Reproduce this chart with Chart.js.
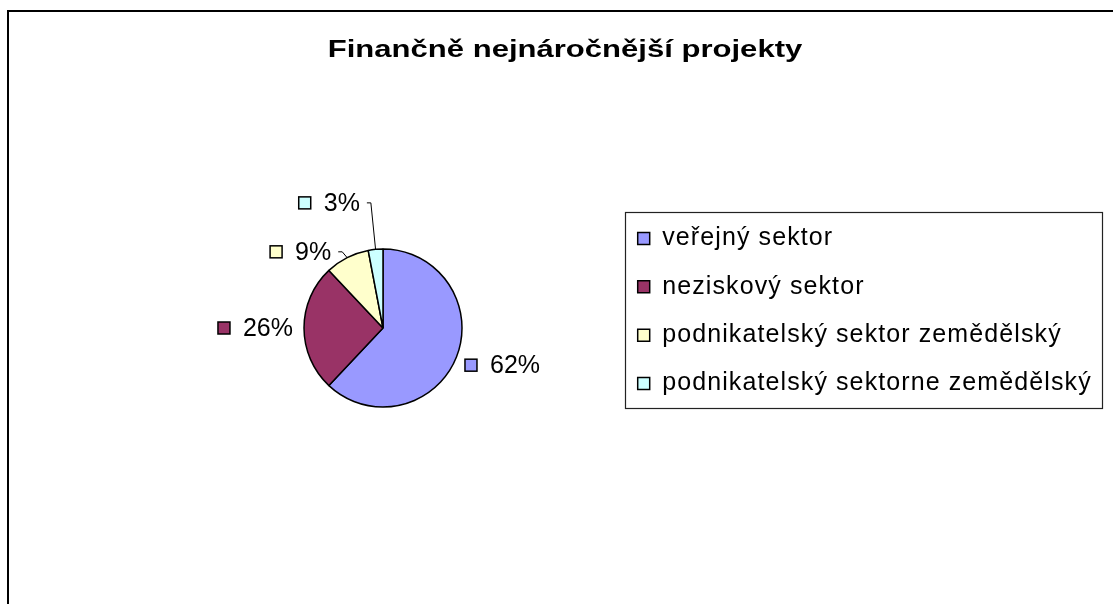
<!DOCTYPE html>
<html>
<head>
<meta charset="utf-8">
<title>Finančně nejnáročnější projekty</title>
<script src="https://cdn.jsdelivr.net/npm/chart.js@4.4.0/dist/chart.umd.min.js"></script>
<style>
    html, body { margin: 0; padding: 0; background: #fff; }
    #wrap { position: relative; width: 1113px; height: 604px; }
</style>
</head>
<body>
<div id="wrap"><canvas id="chart-pie"></canvas></div>
<script>
var chartTitle = "Finančně nejnáročnější projekty";
var categories = ["veřejný sektor", "neziskový sektor", "podnikatelský sektor zemědělský", "podnikatelský sektorne zemědělský"];
var shares = [62, 26, 9, 3];
var sliceColors = ["#9999FF", "#993366", "#FFFFCC", "#CCFFFF"];

// where the % labels sit: px past the rim, and a turn (deg) for the crowded small slices
var labelGap = [12, 11, 13.5, 44.5];
var labelTurn = [0, 0, -15, -15];

var fontFamily = '"Liberation Sans", Arial, sans-serif';

Chart.defaults.font.family = fontFamily;
Chart.defaults.color = '#000';

var pieLabels = {
    id: 'pieLabels',
    beforeUpdate: function(chart) {
        chart.ctx.letterSpacing = '1.1px';
    },
    afterLayout: function(chart) {
        // legend block sits a bit higher than the pie in the original,
        // and its long last label must not get clipped
        var legend = chart.legend;
        legend.top -= 17;
        legend.bottom -= 17;
        legend.right = chart.width;
        legend.width = legend.right - legend.left;
    },
    beforeDraw: function(chart) {
        var ctx = chart.ctx;
        ctx.letterSpacing = '1.1px';
        ctx.save();
        ctx.strokeStyle = '#000';
        ctx.lineWidth = 2;
        ctx.strokeRect(8, 11, chart.width + 40, chart.height + 40);
        ctx.restore();
    },
    afterDatasetsDraw: function(chart) {
        var ctx = chart.ctx;
        var meta = chart.getDatasetMeta(0);
        var total = shares.reduce(function(a, b) { return a + b; }, 0);
        ctx.save();
        ctx.letterSpacing = '0px';
        ctx.font = '25px ' + fontFamily;
        ctx.textBaseline = 'middle';
        ctx.textAlign = 'left';
        ctx.strokeStyle = '#000';
        meta.data.forEach(function(arc, i) {
            var p = arc.getProps(['x', 'y', 'startAngle', 'endAngle', 'outerRadius'], true);
            var mid = (p.startAngle + p.endAngle) / 2;
            var a = mid + labelTurn[i] * Math.PI / 180;
            var c = Math.cos(a), s = Math.sin(a);
            var text = Math.round(shares[i] / total * 100) + '%';
            var w = 12 + 13 + ctx.measureText(text).width;
            var h = 20;
            var r = p.outerRadius + labelGap[i];
            var cx = p.x + r * c + c * w / 2;
            var cy = p.y + r * s + s * h / 2;
            var left = cx - w / 2;

            ctx.fillStyle = sliceColors[i];
            ctx.lineWidth = 1.5;
            ctx.fillRect(left, cy - 6, 12, 12);
            ctx.strokeRect(left, cy - 6, 12, 12);
            ctx.fillStyle = '#000';
            ctx.fillText(text, left + 25, cy + 1);

            if (labelTurn[i] !== 0) {
                var dir = c < 0 ? 1 : -1;
                var edge = c < 0 ? cx + w / 2 + 7 : cx - w / 2 - 7;
                ctx.lineWidth = 1;
                ctx.beginPath();
                ctx.moveTo(edge, cy);
                ctx.lineTo(edge + 4 * dir, cy);
                ctx.lineTo(p.x + p.outerRadius * Math.cos(mid), p.y + p.outerRadius * Math.sin(mid));
                ctx.stroke();
            }
        });
        ctx.restore();
    },
    afterDraw: function(chart) {
        var ctx = chart.ctx;
        var hb = chart.legend.legendHitBoxes;
        var l = Math.min.apply(null, hb.map(function(b) { return b.left; })) - 12.5;
        var t = Math.min.apply(null, hb.map(function(b) { return b.top; })) - 14.5;
        var r = Math.max.apply(null, hb.map(function(b) { return b.left + b.width; })) + 10;
        var bt = Math.max.apply(null, hb.map(function(b) { return b.top + b.height; })) + 12;
        ctx.save();
        ctx.strokeStyle = '#222';
        ctx.lineWidth = 1.2;
        ctx.strokeRect(Math.round(l) + 0.5, Math.round(t) + 0.5, Math.round(r - l), Math.round(bt - t));

        // title glyphs are stretched wide in the original
        ctx.fillStyle = '#000';
        ctx.font = 'bold 23px ' + fontFamily;
        ctx.letterSpacing = '0px';
        ctx.textAlign = 'center';
        ctx.textBaseline = 'alphabetic';
        ctx.translate(565, 57);
        ctx.scale(1.35, 1);
        ctx.fillText(chartTitle, 0, 0);
        ctx.restore();
    }
};

new Chart(document.getElementById("chart-pie"), {
    type: "pie",
    data: {
        labels: categories,
        datasets: [{
            data: shares,
            backgroundColor: sliceColors,
            borderColor: "#000",
            borderWidth: 1.5
        }]
    },
    options: {
        responsive: true,
        maintainAspectRatio: false,
        animation: false,
        events: [],
        radius: 79,
        layout: {
            padding: { left: 151.6, right: 35.8, top: 60, bottom: 8 }
        },
        plugins: {
            legend: {
                position: 'right',
                align: 'center',
                labels: {
                    boxWidth: 12,
                    boxHeight: 12,
                    padding: 23.3,
                    textAlign: 'left',
                    color: '#000',
                    font: { size: 25, family: fontFamily }
                }
            },
            title: { display: false },
            tooltip: { enabled: false }
        }
    },
    plugins: [pieLabels]
});
</script>
</body>
</html>
